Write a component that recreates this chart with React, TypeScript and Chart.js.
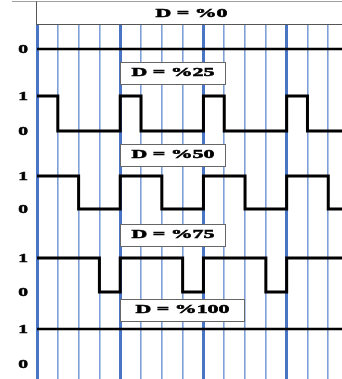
import React, { useEffect, useRef } from "react";
import { Chart, registerables } from "chart.js";

Chart.register(...registerables);

// ---- data ----
const segmentStarts = [0, 1, 2, 3, 4, 5, 6, 7, 8, 9, 10, 11, 12, 13, 14];
const xEnd = 14.66;
const duty0 = [0, 0, 0, 0, 0, 0, 0, 0, 0, 0, 0, 0, 0, 0, 0];
const duty25 = [1, 0, 0, 0, 1, 0, 0, 0, 1, 0, 0, 0, 1, 0, 0];
const duty50 = [1, 1, 0, 0, 1, 1, 0, 0, 1, 1, 0, 0, 1, 1, 0];
const duty75 = [1, 1, 1, 0, 1, 1, 1, 0, 1, 1, 1, 0, 1, 1, 1];
const duty100 = [1, 1, 1, 1, 1, 1, 1, 1, 1, 1, 1, 1, 1, 1, 1];
const dutyLabels = ["D = %0", "D = %25", "D = %50", "D = %75", "D = %100"];
const levelLabels = ["0", "1"];

// ---- layout (y units) ----
const rowBase = [33.0, 24.8, 17.0, 8.7, 1.5];
const rowAmp = [3.3, 3.5, 3.3, 3.4, 3.5];
const boxCenters = [30.6, 22.4, 14.4, 6.9];
const yMax = 35.4;
const periodQuarters = 4;

const rows = [duty0, duty25, duty50, duty75, duty100];

const TEXT_STRETCH = 1.75;
const LABEL_FONT = "bold 12.5px 'Liberation Serif'";
const TICK_STRETCH = 1.45;
const TICK_FONT = "bold 13.5px 'Liberation Serif'";

function drawStretched(
  ctx: CanvasRenderingContext2D,
  text: string,
  cx: number,
  cy: number,
  font: string,
  stretch: number,
  align: CanvasTextAlign = "center"
) {
  ctx.save();
  ctx.font = font;
  ctx.textAlign = align;
  ctx.textBaseline = "middle";
  ctx.fillStyle = "#000";
  ctx.strokeStyle = "#000";
  ctx.lineWidth = 0.5;
  ctx.translate(cx, cy);
  ctx.scale(stretch, 1);
  ctx.fillText(text, 0, 0);
  ctx.strokeText(text, 0, 0);
  ctx.restore();
}

function buildSeries(levels: number[], r: number) {
  const pts = levels.map((l, i) => ({ x: segmentStarts[i], y: rowBase[r] + l * rowAmp[r] }));
  pts.push({ x: xEnd, y: rowBase[r] + levels[levels.length - 1] * rowAmp[r] });
  return pts;
}

const tickValues: number[] = [];
const tickTexts: string[] = [];
rows.forEach((_, r) => {
  if (r > 0) {
    tickValues.push(rowBase[r] + rowAmp[r]);
    tickTexts.push(levelLabels[1]);
  }
  tickValues.push(rowBase[r]);
  tickTexts.push(levelLabels[0]);
});

const labelPlugin = {
  id: "dutyLabels",
  afterDatasetsDraw(chart: any) {
    const ctx: CanvasRenderingContext2D = chart.ctx;
    const xs = chart.scales.x;
    const ys = chart.scales.y;
    const area = chart.chartArea;
    const W = chart.width;

    // y level labels
    tickValues.forEach((v, i) => {
      drawStretched(ctx, tickTexts[i], area.left - 9, ys.getPixelForValue(v) + 1, TICK_FONT, TICK_STRETCH, "right");
    });

    // header box
    ctx.save();
    ctx.strokeStyle = "#a0a0a0";
    ctx.lineWidth = 1;
    ctx.beginPath();
    ctx.moveTo(12, 1.5);
    ctx.lineTo(W, 1.5);
    ctx.stroke();
    ctx.strokeStyle = "#555";
    ctx.beginPath();
    ctx.moveTo(area.left - 0.5, 1.5);
    ctx.lineTo(area.left - 0.5, area.top);
    ctx.moveTo(area.left - 1, area.top - 0.5);
    ctx.lineTo(W, area.top - 0.5);
    ctx.stroke();
    ctx.restore();
    drawStretched(ctx, dutyLabels[0], (area.left + area.right) / 2 + 2, 14, LABEL_FONT, TEXT_STRETCH);

    // boxed labels
    for (let i = 1; i < dutyLabels.length; i++) {
      const text = dutyLabels[i];
      ctx.save();
      ctx.font = LABEL_FONT;
      const tw = ctx.measureText(text).width * TEXT_STRETCH;
      ctx.restore();
      const padX = i === 4 ? 15 : 11;
      const bw = Math.round(tw + padX * 2);
      const bh = 22;
      const left = Math.round(xs.getPixelForValue(periodQuarters)) + 0.5;
      const cy = ys.getPixelForValue(boxCenters[i - 1]);
      const top = Math.round(cy - bh / 2) + 0.5;
      ctx.save();
      ctx.fillStyle = "#fff";
      ctx.strokeStyle = "#666";
      ctx.lineWidth = 1;
      ctx.fillRect(left, top, bw, bh);
      ctx.strokeRect(left, top, bw, bh);
      ctx.restore();
      drawStretched(ctx, text, left + bw / 2, cy, LABEL_FONT, TEXT_STRETCH);
    }
  },
};

export default function App() {
  const ref = useRef<HTMLCanvasElement | null>(null);

  useEffect(() => {
    document.body.style.margin = "0";
    if (!ref.current) return;
    const chart = new Chart(ref.current, {
      type: "line",
      data: {
        datasets: rows.map((levels, r) => ({
          label: dutyLabels[r],
          data: buildSeries(levels, r),
          borderColor: "#000",
          borderWidth: r === 0 || r === 4 ? 2.5 : 3,
          stepped: true,
          pointRadius: 0,
          fill: false,
          borderJoinStyle: "miter" as const,
          borderCapStyle: "butt" as const,
        })),
      },
      options: {
        animation: false,
        responsive: false,
        maintainAspectRatio: false,
        layout: { padding: { top: 25, left: 37, right: 0, bottom: 0 } },
        plugins: {
          legend: { display: false },
          tooltip: { enabled: false },
          title: { display: false },
        },
        scales: {
          x: {
            type: "linear",
            min: 0,
            max: xEnd,
            afterBuildTicks: (axis: any) => {
              axis.ticks = segmentStarts.map((v) => ({ value: v }));
            },
            afterFit: (axis: any) => {
              axis.height = 0;
              axis.paddingLeft = 0;
              axis.paddingRight = 0;
            },
            ticks: { display: false, padding: 0 },
            border: { display: false },
            grid: {
              drawTicks: false,
              tickLength: 0,
              color: (c: any) => (c.tick && c.tick.value % periodQuarters === 0 ? "#4a74c4" : "#7f9fd8"),
              lineWidth: (c: any) => (c.tick && c.tick.value % periodQuarters === 0 ? 3 : 1.6),
            },
          },
          y: {
            type: "linear",
            display: false,
            min: 0,
            max: yMax,
          },
        },
      },
      plugins: [labelPlugin],
    } as any);
    return () => chart.destroy();
  }, []);

  return (
    <div style={{ width: 342, height: 379 }}>
      <canvas ref={ref} width={342} height={379} style={{ display: "block" }} />
    </div>
  );
}
